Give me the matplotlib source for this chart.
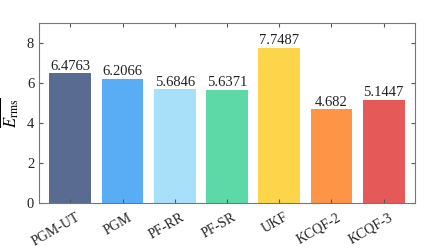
import numpy as np
import matplotlib.pyplot as plt
import matplotlib.transforms as mtransforms

methods = ['PGM-UT', 'PGM', 'PF-RR', 'PF-SR', 'UKF', 'KCQF-2', 'KCQF-3']
erms = [6.4763, 6.2066, 5.6846, 5.6371, 7.7487, 4.682, 5.1447]
labels = ['6.4763', '6.2066', '5.6846', '5.6371', '7.7487', '4.682', '5.1447']
colors = ['#5a6b92', '#58adf5', '#a8dff9', '#5dd8a7', '#fdd54a', '#fe9446', '#e55a59']

plt.rcParams['font.family'] = 'Liberation Serif'
plt.rcParams['mathtext.fontset'] = 'stix'
plt.rcParams['text.color'] = '#222222'
plt.rcParams['xtick.color'] = '#555555'
plt.rcParams['ytick.color'] = '#555555'
plt.rcParams['xtick.labelcolor'] = '#222222'
plt.rcParams['ytick.labelcolor'] = '#222222'

fig = plt.figure(figsize=(4.32, 2.5), dpi=100)
ax = fig.add_axes([39/432, 1 - 203/250, 376/432, 180/250])

x = np.arange(len(methods))
ax.bar(x, erms, width=0.8, color=colors)
for i in range(len(methods)):
    ax.text(x[i], erms[i] + 0.04, labels[i], ha='center', va='bottom', fontsize=10.5)

ax.set_xlim(-0.6, len(methods) - 0.4)
ax.set_ylim(0, 9)
ax.set_yticks([0, 2, 4, 6, 8])
ax.set_xticks(x)
ax.tick_params(axis='y', labelsize=10.5)
ax.tick_params(direction='in', top=True, right=True, length=3)
for s in ax.spines.values():
    s.set_color('#777777')
ax.set_ylabel(r'$\overline{E_{\mathrm{rms}}}$', fontsize=12, labelpad=4)

# rotated labels, nudged like the original
ax.set_xticklabels(methods, rotation=30, ha='right', rotation_mode='anchor', fontsize=10)
shift = mtransforms.ScaledTranslation(5/100, -3/100, fig.dpi_scale_trans)
for lab in ax.get_xticklabels():
    lab.set_transform(lab.get_transform() + shift)

fig.savefig('out.png', dpi=100)
